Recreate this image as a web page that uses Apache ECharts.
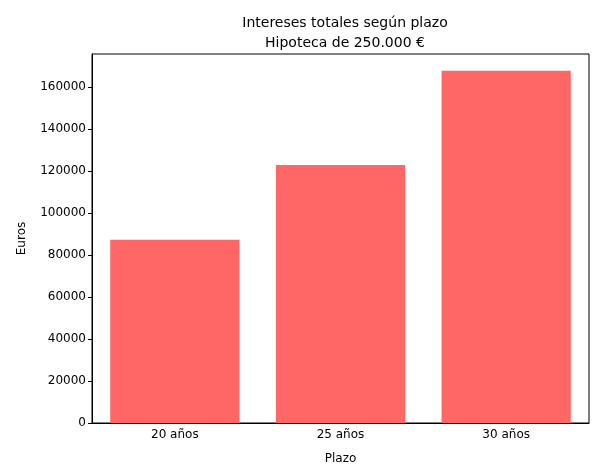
<!DOCTYPE html>
<html><head><meta charset="utf-8">
<script src="https://cdn.jsdelivr.net/npm/echarts@6/dist/echarts.min.js"></script>
<style>html,body{margin:0;padding:0;background:#fff}#c{width:598px;height:476px}</style>
</head><body><div id="c"></div>
<script>
var categories = ['20 años', '25 años', '30 años'];
var interests = [87200, 122900, 167700];
var chart = echarts.init(document.getElementById('c'));
var F = 'DejaVu Sans';
chart.setOption({
  animation: false,
  textStyle: {fontFamily: F},
  title: {text: 'Intereses totales según plazo\nHipoteca de 250.000 €', left: 340, textAlign: 'center', top: 8,
    textStyle: {fontFamily: F, fontSize: 14, fontWeight: 'normal', color: '#000', lineHeight: 20}},
  grid: {left: 92, right: 9, top: 54, bottom: 53, show: true, borderColor: '#000', borderWidth: 1},
  xAxis: {type: 'category', data: categories, name: 'Plazo', nameLocation: 'middle', nameGap: 30,
    nameTextStyle: {color: '#000', fontSize: 12, fontFamily: F},
    axisLine: {lineStyle: {color: '#000'}}, axisTick: {alignWithLabel: true, inside: false, length: 4, lineStyle: {color: '#000'}},
    axisLabel: {color: '#000', fontSize: 12, margin: 6}},
  yAxis: {type: 'value', min: 0, max: 175700, interval: 20000, name: 'Euros', nameLocation: 'middle', nameGap: 64,
    nameTextStyle: {color: '#000', fontSize: 12, fontFamily: F},
    splitLine: {show: false}, axisLine: {show: true, lineStyle: {color: '#000'}},
    axisTick: {show: true, length: 4, lineStyle: {color: '#000'}},
    axisLabel: {color: '#000', fontSize: 12, margin: 6, showMaxLabel: false,
      formatter: function(v){ return v % 20000 === 0 ? String(v) : ''; }}},
  series: [{type: 'bar', data: interests, barWidth: '78%', itemStyle: {color: '#ff6666'}}]
});
</script></body></html>
